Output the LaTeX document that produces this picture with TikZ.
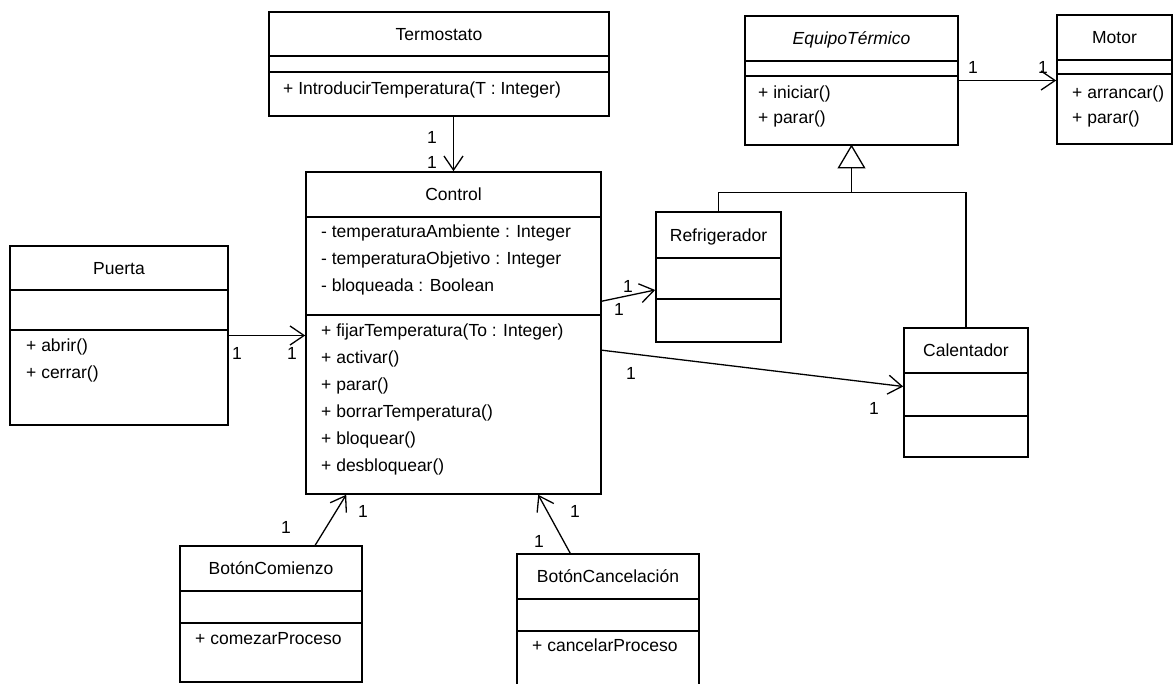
\documentclass[tikz,border=0pt]{standalone}
\usepackage{fontspec}
\setmainfont{Liberation Sans}
\usetikzlibrary{arrows.meta,calc}
\tikzset{x=1pt,y=-1pt,
  classbox/.style={draw,line width=1.6pt,rectangle,inner sep=0pt,fill=white},
  classname/.style={inner sep=0pt,text height=12.5pt,text depth=0pt,font=\fontsize{17.5}{21}\selectfont},
  member/.style={anchor=west,inner sep=0pt,text height=12.5pt,text depth=3.5pt,font=\fontsize{17.5}{21}\selectfont},
  mult/.style={inner sep=0pt,font=\fontsize{17.5}{21}\selectfont},
  assoc/.style={line width=1.3pt,-{Straight Barb[length=14pt,width=19pt]}},
  inherit/.style={line width=1.3pt},
}
% class box: name, x1, y1, x2, y2, first line, second line, title
\newcommand{\umlclass}[8]{%
  \node[classbox,minimum width={#4-#2},minimum height={#5-#3}] (#1) at ({(#2+#4)/2},{(#3+#5)/2}) {};
  \draw[line width=1.6pt] (#2,#6) -- (#4,#6) (#2,#7) -- (#4,#7);
  \node[classname] (#1-name) at ({(#2+#4)/2},{(#3+#6)/2}) {#8};
}
\begin{document}
\begin{tikzpicture}
  \path[use as bounding box,fill=white] (0,0) rectangle (1174,684);
  % classes
  \umlclass{termostato}{269}{12}{609}{116}{56}{72}{Termostato}
  \umlclass{equipo}{745}{16}{958}{145}{61}{76}{\itshape EquipoTérmico}
  \umlclass{motor}{1057}{15}{1172}{144}{60}{74}{Motor}
  \umlclass{control}{306}{172}{601}{494}{217}{315}{Control}
  \umlclass{puerta}{10}{246}{228}{425}{290}{330}{Puerta}
  \umlclass{refrigerador}{656}{212}{781}{342}{258}{299}{Refrigerador}
  \umlclass{calentador}{904}{328}{1028}{457}{373}{416}{Calentador}
  \umlclass{comienzo}{180}{546}{362}{682}{591}{623}{BotónComienzo}
  \umlclass{cancelacion}{517}{554}{699}{700}{599}{631}{BotónCancelación}
  % members
  \node[member] (termostato-m1) at (283,90) {+ IntroducirTemperatura(T : Integer)};
  \foreach \m [count=\i] in {+ iniciar(), + parar()}
    \node[member] (equipo-m\i) at (758,{69+25*\i}) {\m};
  \foreach \m [count=\i] in {+ arrancar(), + parar()}
    \node[member] (motor-m\i) at (1072,{69+25*\i}) {\m};
  \foreach \a [count=\i] in {- temperaturaAmbiente : Integer, - temperaturaObjetivo : Integer, - bloqueada : Boolean}
    \node[member] (control-a\i) at (321,{206+27*\i}) {\a};
  \foreach \m [count=\i] in {+ fijarTemperatura(To : Integer), + activar(), + parar(), + borrarTemperatura(), + bloquear(), + desbloquear()}
    \node[member] (control-m\i) at (321,{305+27*\i}) {\m};
  \foreach \m [count=\i] in {+ abrir(), + cerrar()}
    \node[member] (puerta-m\i) at (26,{320+27*\i}) {\m};
  \node[member] (comienzo-m1) at (195,640) {+ comezarProceso};
  \node[member] (cancelacion-m1) at (532,647) {+ cancelarProceso};
  % associations
  \draw[assoc] (termostato.south -| control.north) -- (control.north);
  \draw[assoc] (equipo.east) -- (equipo.east -| motor.west);
  \draw[assoc] (puerta.east) -- (puerta.east -| control.west);
  \draw[assoc] ($(control.north east)+(0,130)$) -- ($(refrigerador.west)+(0,13)$);
  \draw[assoc] ($(control.north east)+(0,179)$) -- ($(calentador.west)+(0,-6)$);
  \draw[assoc] ($(comienzo.north west)+(136,0)$) -- ($(control.south west)+(41,0)$);
  \draw[assoc] ($(cancelacion.north west)+(54,0)$) -- ($(control.south west)+(233,0)$);
  % generalization
  \coordinate (genjoin) at ($(equipo.south)+(0,47)$);
  \draw[inherit] (refrigerador.north) |- (genjoin) -| (calentador.north);
  \draw[inherit] (genjoin) -- ($(equipo.south)+(0,22)$);
  \draw[inherit,fill=white] (equipo.south) -- ++(-13,22) -- ++(26,0) -- cycle;
  % multiplicities
  \node[mult] (mult-ta) at (432,137) {1};
  \node[mult] (mult-tb) at (432,162) {1};
  \node[mult] (mult-ea) at (973,67) {1};
  \node[mult] (mult-eb) at (1043,67) {1};
  \node[mult] (mult-pa) at (237,353) {1};
  \node[mult] (mult-pb) at (292,353) {1};
  \node[mult] (mult-ra) at (628,286) {1};
  \node[mult] (mult-rb) at (619,309) {1};
  \node[mult] (mult-ca) at (631,373) {1};
  \node[mult] (mult-cb) at (874,408) {1};
  \node[mult] (mult-ba) at (286,527) {1};
  \node[mult] (mult-bb) at (363,511) {1};
  \node[mult] (mult-xa) at (575,511) {1};
  \node[mult] (mult-xb) at (539,541) {1};
\end{tikzpicture}
\end{document}
